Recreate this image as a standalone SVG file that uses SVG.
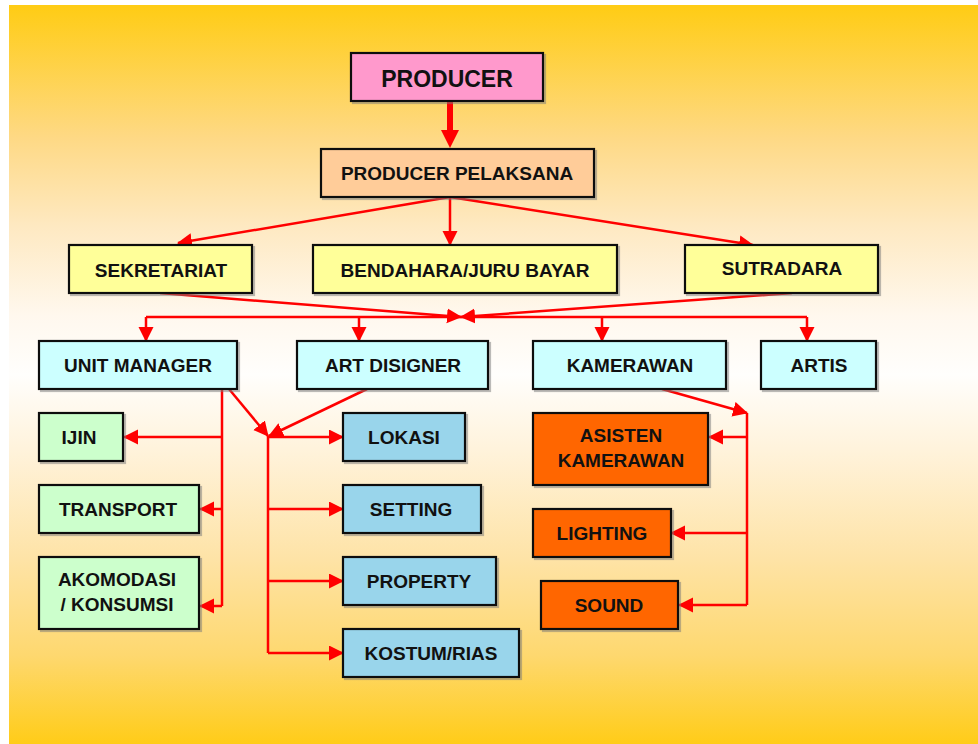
<svg xmlns="http://www.w3.org/2000/svg" width="978" height="744" viewBox="0 0 978 744">
<defs>
<linearGradient id="bg" x1="0" y1="0" x2="0" y2="1">
<stop offset="0" stop-color="#FFCC14"/>
<stop offset="0.18" stop-color="#FED985"/>
<stop offset="0.3" stop-color="#FEE9C2"/>
<stop offset="0.42" stop-color="#FFF8EE"/>
<stop offset="0.5" stop-color="#FFFEFC"/>
<stop offset="0.6" stop-color="#FFF3DC"/>
<stop offset="0.75" stop-color="#FEE3A6"/>
<stop offset="0.88" stop-color="#FED86F"/>
<stop offset="1" stop-color="#FFCC18"/>
</linearGradient>
<marker id="ah" markerUnits="userSpaceOnUse" markerWidth="16" markerHeight="16" refX="14" refY="7.5" orient="auto">
<path d="M0,0 L15,7.5 L0,15 z" fill="#FF0000"/>
</marker>
<filter id="sh" x="-10%" y="-10%" width="130%" height="130%">
<feDropShadow dx="2" dy="2" stdDeviation="0.6" flood-color="#777" flood-opacity="0.5"/>
</filter>
</defs>
<style>
.box{stroke:#111;stroke-width:2.2;filter:url(#sh)}
.t{font-family:"Liberation Sans",Arial,sans-serif;font-weight:bold;font-size:19px;fill:#111;text-anchor:middle}
.c{stroke:#FF0000;stroke-width:2.5;fill:none}
.a{marker-end:url(#ah)}
</style>
<rect x="0" y="0" width="978" height="744" fill="#FFFFFF"/>
<rect x="9" y="5" width="969" height="739" fill="url(#bg)"/>

<g id="connectors">
<line x1="450" y1="101" x2="450" y2="132" stroke="#FF0000" stroke-width="6"/>
<polygon points="441,130 459,130 450,148" fill="#FF0000"/>
<line class="c a" x1="450" y1="197" x2="178" y2="243"/>
<line class="c a" x1="450" y1="197" x2="450" y2="245"/>
<line class="c a" x1="450" y1="197" x2="753" y2="245"/>
<line class="c a" x1="160" y1="293" x2="461" y2="317"/>
<line class="c a" x1="792" y1="293" x2="461" y2="317"/>
<path class="c" d="M146,317 H807"/>
<line class="c a" x1="146" y1="317" x2="146" y2="341"/>
<line class="c a" x1="359" y1="317" x2="359" y2="341"/>
<line class="c a" x1="602" y1="317" x2="602" y2="341"/>
<line class="c a" x1="807" y1="317" x2="807" y2="341"/>
<path class="c" d="M222,389 V606"/>
<line class="c a" x1="222" y1="437" x2="124" y2="437"/>
<line class="c a" x1="222" y1="509" x2="200" y2="509"/>
<line class="c a" x1="222" y1="606" x2="200" y2="606"/>
<line class="c a" x1="229" y1="389" x2="268" y2="436"/>
<line class="c a" x1="367" y1="389" x2="269" y2="436"/>
<path class="c" d="M268,436 V653"/>
<line class="c a" x1="268" y1="437" x2="343" y2="437"/>
<line class="c a" x1="268" y1="509" x2="343" y2="509"/>
<line class="c a" x1="268" y1="581" x2="343" y2="581"/>
<line class="c a" x1="268" y1="653" x2="343" y2="653"/>
<line class="c a" x1="662" y1="389" x2="747" y2="413"/>
<path class="c" d="M747,413 V605"/>
<line class="c a" x1="747" y1="437" x2="709" y2="437"/>
<line class="c a" x1="747" y1="533" x2="671" y2="533"/>
<line class="c a" x1="747" y1="605" x2="679" y2="605"/>
</g>

<g id="producer"><rect class="box" x="351" y="53" width="192" height="48" fill="#FF99CC"/><text class="t" x="447" y="87" style="font-size:23px">PRODUCER</text></g>
<g id="producer-pelaksana"><rect class="box" x="321" y="149" width="273" height="48" fill="#FFCC99"/><text class="t" x="457" y="180">PRODUCER PELAKSANA</text></g>
<g id="sekretariat"><rect class="box" x="69" y="245" width="183" height="48" fill="#FFFF99"/><text class="t" x="161" y="277">SEKRETARIAT</text></g>
<g id="bendahara"><rect class="box" x="313" y="245" width="304" height="48" fill="#FFFF99"/><text class="t" x="465" y="277">BENDAHARA/JURU BAYAR</text></g>
<g id="sutradara"><rect class="box" x="685" y="245" width="193" height="48" fill="#FFFF99"/><text class="t" x="782" y="275">SUTRADARA</text></g>
<g id="unit-manager"><rect class="box" x="39" y="341" width="198" height="48" fill="#CCFFFF"/><text class="t" x="138" y="372">UNIT MANAGER</text></g>
<g id="art-disigner"><rect class="box" x="297" y="341" width="191" height="48" fill="#CCFFFF"/><text class="t" x="393" y="372">ART DISIGNER</text></g>
<g id="kamerawan"><rect class="box" x="533" y="341" width="193" height="48" fill="#CCFFFF"/><text class="t" x="630" y="372">KAMERAWAN</text></g>
<g id="artis"><rect class="box" x="761" y="341" width="115" height="48" fill="#CCFFFF"/><text class="t" x="819" y="372">ARTIS</text></g>
<g id="ijin"><rect class="box" x="39" y="413" width="84" height="48" fill="#CCFFCC"/><text class="t" x="79" y="444">IJIN</text></g>
<g id="transport"><rect class="box" x="39" y="485" width="160" height="48" fill="#CCFFCC"/><text class="t" x="118" y="516">TRANSPORT</text></g>
<g id="akomodasi"><rect class="box" x="39" y="557" width="160" height="72" fill="#CCFFCC"/><text class="t" x="117" y="586">AKOMODASI</text><text class="t" x="117" y="611">/ KONSUMSI</text></g>
<g id="lokasi"><rect class="box" x="343" y="413" width="122" height="48" fill="#99D5EB"/><text class="t" x="404" y="444">LOKASI</text></g>
<g id="setting"><rect class="box" x="343" y="485" width="138" height="48" fill="#99D5EB"/><text class="t" x="411" y="516">SETTING</text></g>
<g id="property"><rect class="box" x="343" y="557" width="153" height="48" fill="#99D5EB"/><text class="t" x="419" y="588">PROPERTY</text></g>
<g id="kostum-rias"><rect class="box" x="343" y="629" width="176" height="48" fill="#99D5EB"/><text class="t" x="431" y="660">KOSTUM/RIAS</text></g>
<g id="asisten-kamerawan"><rect class="box" x="533" y="413" width="175" height="72" fill="#FF6600"/><text class="t" x="621" y="442">ASISTEN</text><text class="t" x="621" y="467">KAMERAWAN</text></g>
<g id="lighting"><rect class="box" x="533" y="509" width="138" height="48" fill="#FF6600"/><text class="t" x="602" y="540">LIGHTING</text></g>
<g id="sound"><rect class="box" x="541" y="581" width="137" height="48" fill="#FF6600"/><text class="t" x="609" y="612">SOUND</text></g>
</svg>
